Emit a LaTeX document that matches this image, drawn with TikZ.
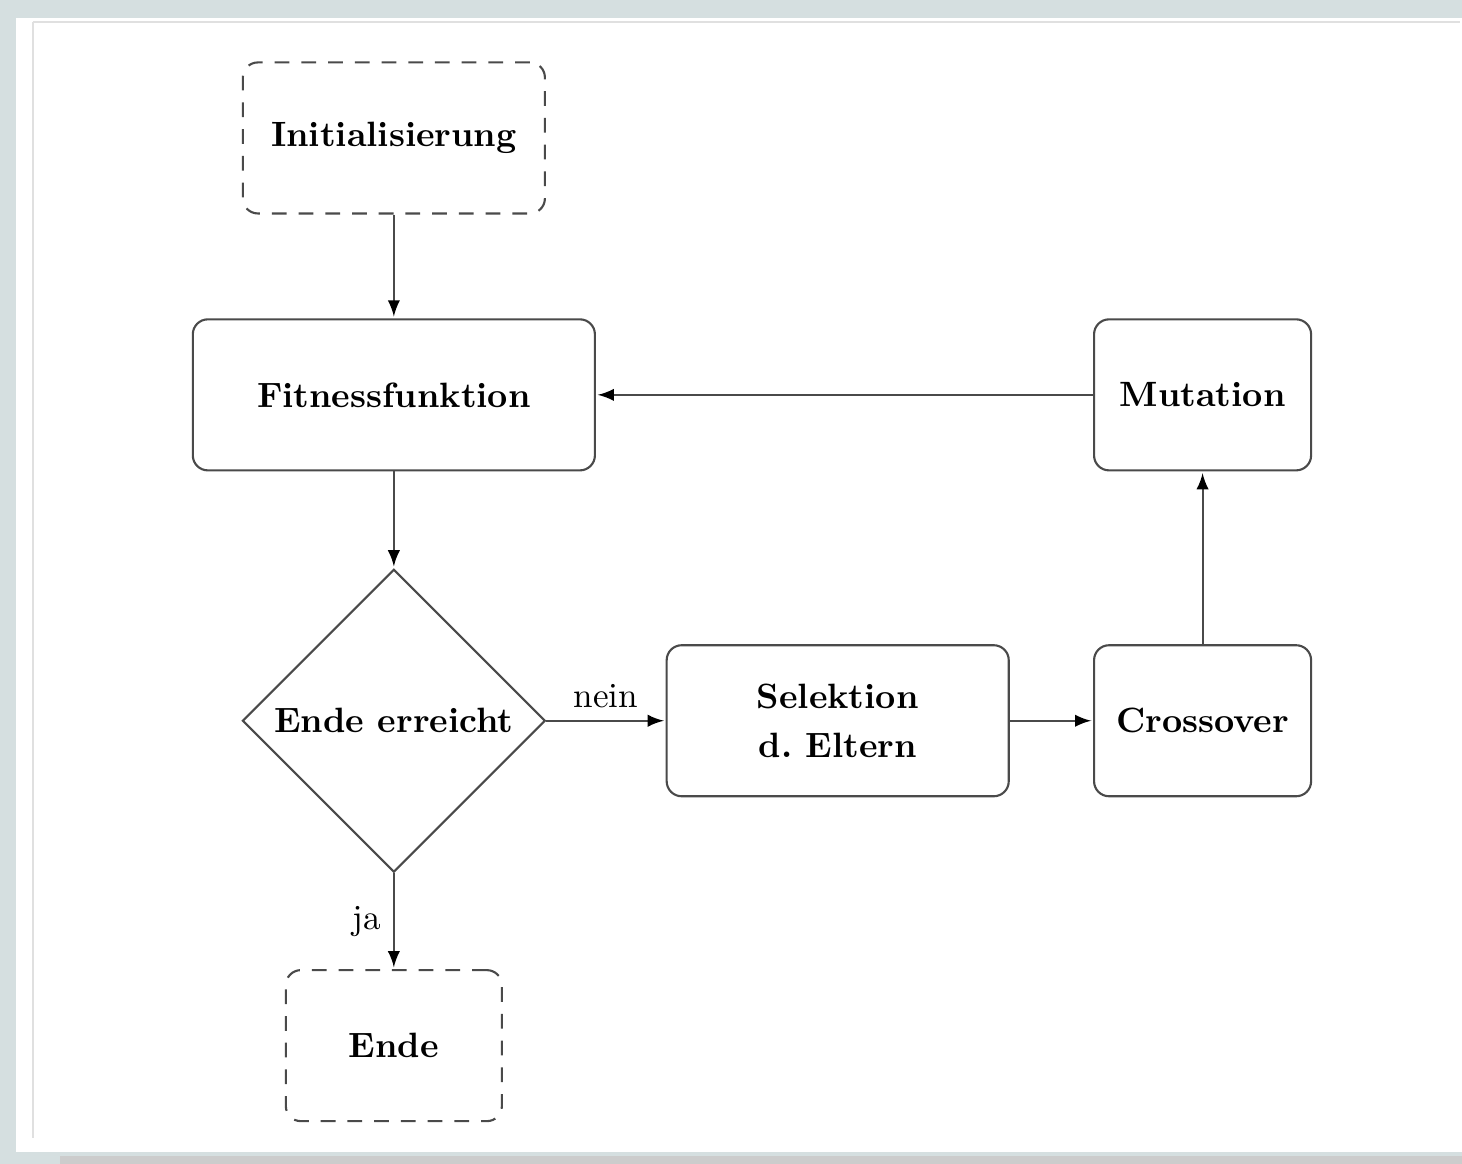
\documentclass[tikz,border=0pt]{standalone}
\usepackage{tikz}
\usetikzlibrary{arrows}
\usetikzlibrary{shapes.geometric}
\definecolor{bgcol}{HTML}{D5DFE0}
\definecolor{linecol}{HTML}{4A4A4A}
\tikzset{
b/.style={
  rectangle,rounded corners=0.15cm,
  inner sep=0pt,
  minimum height=1.51cm,
  align=center,
  draw=linecol,
  line width=0.6pt,
  fill=white,
  font=\bfseries
  },
t/.style={
  b,dash pattern=on 4.2pt off 3.4pt
  },
d/.style={
  diamond,aspect=1,
  inner sep=0pt,
  minimum size=3.03cm,
  draw=linecol,
  line width=0.6pt,
  font=\bfseries
  }
}

\begin{document}
\begin{tikzpicture}[x=0.01cm,y=-0.01cm,->,>=latex,shorten >=0.5pt,line width=0.6pt]
        % paper
        \fill[bgcol] (0,0) rectangle (1462,1164);
        \fill[white] (16,18) rectangle (1462,1152);
        \draw[-,black!12,line width=0.3pt] (33,22) -- (1462,22);
        \draw[-,black!12,line width=0.3pt] (33,22) -- (33,1140);
        \fill[black!20] (60,1156) rectangle (1462,1164);
        \node[t,minimum width=3.02cm] at (394,138) (init) {Initialisierung};
        \node[b,minimum width=4.02cm] at (394,395) (fit) {Fitnessfunktion};
        \node[b,minimum width=2.17cm] at (1203,395) (mut) {Mutation};
        \node[d] at (394,721) (end?) {Ende erreicht};
        \node[b,minimum width=3.42cm] at (838,721) (sel) {Selektion\\[2pt] d.\ Eltern};
        \node[b,minimum width=2.17cm] at (1203,721) (cross) {Crossover};
        \node[t,minimum width=2.16cm] at (394,1046) (ende) {Ende};
        \path[->,draw=linecol]
        (init) edge [] node {} (fit)
        (fit) edge [] node {} (end?)
        (end?) edge [] node [above,text=black] {nein} (sel)
        (sel) edge [] node {} (cross)
        (cross) edge [] node {} (mut)
        (mut) edge [] node {} (fit)
        (end?) edge [] node [left,text=black] {ja} (ende)
        ;
    \end{tikzpicture}
\end{document}
